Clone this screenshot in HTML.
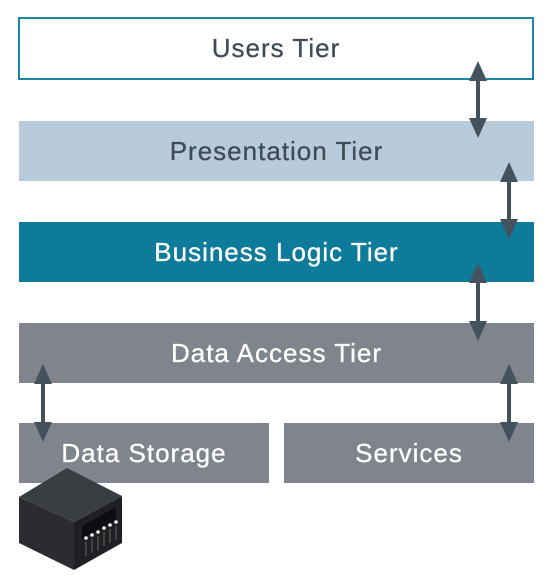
<!DOCTYPE html>
<html><head><style>
body{margin:0;width:557px;height:578px;background:#fff;position:relative;overflow:hidden;font-family:"Liberation Sans",sans-serif}
.b{position:absolute;display:flex;align-items:center;justify-content:center;font-size:26px;letter-spacing:1px;box-sizing:border-box;-webkit-text-stroke:0.3px currentColor}
</style></head><body>
<div class="b" style="left:18px;top:17px;width:516px;height:63px;border:2px solid #1a86a8;color:#3f4c57">Users Tier</div>
<div class="b" style="left:19px;top:121px;width:515px;height:60px;background:#b8cbdb;color:#3f4c57">Presentation Tier</div>
<div class="b" style="left:19px;top:222px;width:515px;height:60px;background:#0f7b9b;color:#fff">Business Logic Tier</div>
<div class="b" style="left:19px;top:323px;width:515px;height:60px;background:#80858d;color:#fff">Data Access Tier</div>
<div class="b" style="left:19px;top:423px;width:250px;height:60px;background:#80858d;color:#fff">Data Storage</div>
<div class="b" style="left:284px;top:423px;width:250px;height:60px;background:#80858d;color:#fff">Services</div>
<svg width="557" height="578" style="position:absolute;left:0;top:0">
<g fill="#44525e" stroke="#44525e">
<g><line x1="478" y1="75" x2="478" y2="124" stroke-width="4"/><polygon points="478,61 469,81 487,81" stroke="none"/><polygon points="478,138 469,118 487,118" stroke="none"/></g>
<g><line x1="509" y1="176" x2="509" y2="225" stroke-width="4"/><polygon points="509,162 500,182 518,182" stroke="none"/><polygon points="509,239 500,219 518,219" stroke="none"/></g>
<g><line x1="478" y1="277" x2="478" y2="327" stroke-width="4"/><polygon points="478,263 469,283 487,283" stroke="none"/><polygon points="478,341 469,321 487,321" stroke="none"/></g>
<g><line x1="43" y1="378" x2="43" y2="428" stroke-width="4"/><polygon points="43,364 34,384 52,384" stroke="none"/><polygon points="43,442 34,422 52,422" stroke="none"/></g>
<g><line x1="509" y1="378" x2="509" y2="428" stroke-width="4"/><polygon points="509,364 500,384 518,384" stroke="none"/><polygon points="509,442 500,422 518,422" stroke="none"/></g>
</g>
<g>
<polygon points="19,497 67,468 122,496 74,522" fill="#3a3d42"/>
<polygon points="19,497 74,522 74,570 19,543" fill="#2a2c30"/>
<polygon points="74,522 122,496 122,543 74,570" fill="#1e2024"/>
<polygon points="82,526 116,507 116,520 82,539" fill="#0c0d10"/>
<g fill="#eee"><circle cx="86" cy="538" r="1.8"/><circle cx="92" cy="535" r="1.8"/><circle cx="98" cy="532" r="1.8"/><circle cx="104" cy="528" r="1.8"/><circle cx="110" cy="525" r="1.8"/><circle cx="116" cy="522" r="1.8"/></g>
<g stroke="#444" stroke-width="2"><line x1="86" y1="542" x2="86" y2="556"/><line x1="92" y1="539" x2="92" y2="553"/><line x1="98" y1="536" x2="98" y2="550"/><line x1="104" y1="532" x2="104" y2="546"/><line x1="110" y1="529" x2="110" y2="543"/><line x1="116" y1="526" x2="116" y2="540"/></g>
</g>
</svg>
</body></html>
